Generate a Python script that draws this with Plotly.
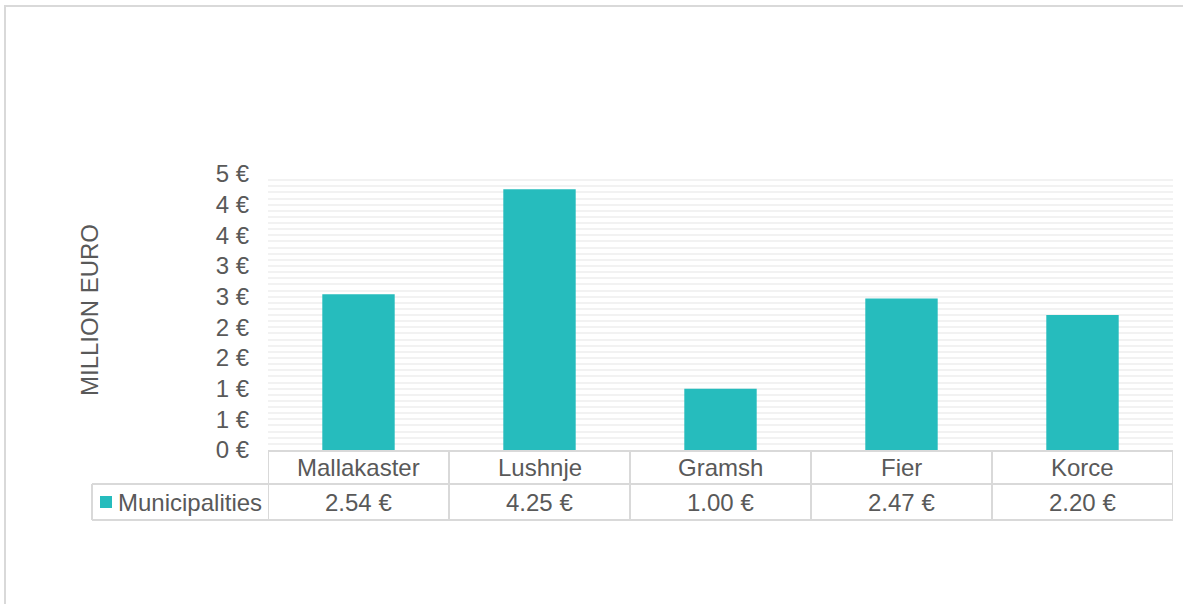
import plotly.graph_objects as go

categories = ["Mallakaster", "Lushnje", "Gramsh", "Fier", "Korce"]
values = [2.54, 4.25, 1.00, 2.47, 2.20]
series_name = "Municipalities"
tick_vals = [0, 0.5, 1, 1.5, 2, 2.5, 3, 3.5, 4, 4.5]
tick_text = ["0 €", "1 €", "1 €", "2 €", "2 €", "3 €", "3 €", "4 €", "4 €", "5 €"]

W, H = 1183, 604
L, R, T, B = 268, 10, 174, 154
PW, PH = W - L - R, H - T - B

def px(xp):
    return (xp - L) / PW

def py(yp):
    return (H - B - yp) / PH

TXT = "#595959"
LINE = "#D9D9D9"
GRID = "#F2F2F2"
BAR = "#26BCBD"
FONT = "Liberation Sans, Arial, sans-serif"

fig = go.Figure()
fig.add_trace(go.Bar(x=categories, y=values, name=series_name,
                     marker=dict(color=BAR, line=dict(width=0)), width=0.4,
                     showlegend=False, hoverinfo="x+y"))

shapes = []
n = len(categories)
# table horizontal lines
shapes.append(dict(type="line", xref="x", yref="paper", x0=-0.5, x1=n - 0.5,
                   y0=py(451), y1=py(451), line=dict(color=LINE, width=2)))
shapes.append(dict(type="line", xref="paper", yref="paper", x0=px(92), x1=1.0,
                   y0=py(484), y1=py(484), line=dict(color=LINE, width=2)))
shapes.append(dict(type="line", xref="paper", yref="paper", x0=px(92), x1=1.0,
                   y0=py(520), y1=py(520), line=dict(color=LINE, width=2)))
# table vertical lines
for i in range(n + 1):
    shapes.append(dict(type="line", xref="x", yref="paper", x0=i - 0.5, x1=i - 0.5,
                       y0=py(451), y1=py(520), line=dict(color=LINE, width=2)))
shapes.append(dict(type="line", xref="paper", yref="paper", x0=px(92), x1=px(92),
                   y0=py(484), y1=py(520), line=dict(color=LINE, width=2)))
# legend key
shapes.append(dict(type="rect", xref="paper", yref="paper", x0=px(100), x1=px(112),
                   y0=py(508), y1=py(496), fillcolor=BAR, line=dict(width=0)))
# outer chart border
shapes.append(dict(type="rect", xref="paper", yref="paper", x0=px(5), x1=px(1190),
                   y0=py(615), y1=py(6), line=dict(color=LINE, width=2),
                   fillcolor="rgba(0,0,0,0)", layer="below"))

annotations = []
for c, v in zip(categories, values):
    annotations.append(dict(x=c, y=py(467.5), xref="x", yref="paper", text=c,
                            showarrow=False, xanchor="center", yanchor="middle",
                            font=dict(size=24, color=TXT, family=FONT)))
    annotations.append(dict(x=c, y=py(502), xref="x", yref="paper", text=f"{v:.2f} €",
                            showarrow=False, xanchor="center", yanchor="middle",
                            font=dict(size=24, color=TXT, family=FONT)))
annotations.append(dict(x=px(116), y=py(502), xref="paper", yref="paper", text=series_name,
                        showarrow=False, xanchor="left", yanchor="middle",
                        font=dict(size=24, color=TXT, family=FONT)))
annotations.append(dict(x=px(89), y=py(310), xref="paper", yref="paper", text="MILLION EURO",
                        showarrow=False, xanchor="center", yanchor="middle", textangle=-90,
                        font=dict(size=24, color=TXT, family=FONT)))

fig.update_layout(
    width=W, height=H,
    margin=dict(l=L, r=R, t=T, b=B, pad=0),
    paper_bgcolor="white", plot_bgcolor="white",
    bargap=0.6,
    shapes=shapes, annotations=annotations,
    font=dict(family=FONT, color=TXT, size=24),
    xaxis=dict(showticklabels=False, showgrid=False, zeroline=False, showline=False,
               range=[-0.5, n - 0.5], fixedrange=True),
    yaxis=dict(range=[0, 4.5], tickvals=tick_vals, ticktext=tick_text,
               tickfont=dict(size=24, color=TXT, family=FONT),
               showgrid=True, gridcolor=GRID, gridwidth=2,
               zeroline=False, showline=False, ticks="", ticklabelstandoff=18,
               minor=dict(dtick=0.1, showgrid=True, gridcolor=GRID, gridwidth=2),
               fixedrange=True),
)

fig.write_html("out.html", config={"displayModeBar": False},
               post_script="document.body.style.margin='0';document.body.style.overflow='hidden';")
